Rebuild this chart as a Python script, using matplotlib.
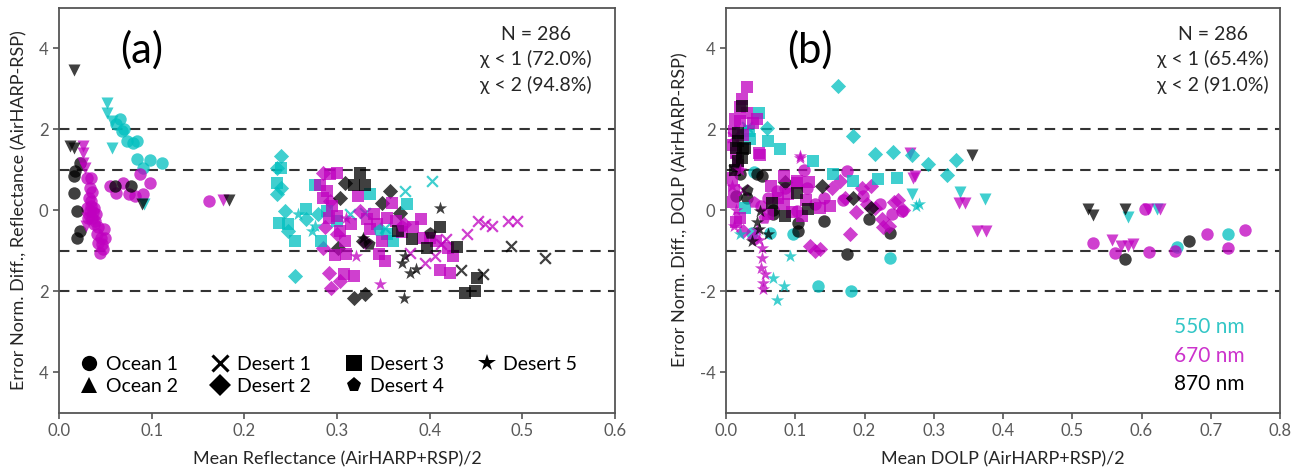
import matplotlib
matplotlib.use("Agg")
import matplotlib.pyplot as plt
from matplotlib.lines import Line2D

plt.rcParams['font.family'] = ['Lato', 'DejaVu Sans']

# (mean value, error-normalised difference, wavelength nm) per site
# --- panel (a): reflectance
refl_ocean1 = [
    (0.066, 2.24, 550), (0.062, 2.12, 550), (0.068, 1.95, 550), (0.073, 1.70, 550), (0.080, 1.66, 550),
    (0.084, 1.70, 550), (0.084, 1.25, 550), (0.098, 1.23, 550), (0.111, 1.17, 550), (0.091, 1.05, 550),
    (0.070, 2.00, 550),
    (0.030, 0.80, 670), (0.035, 0.78, 670), (0.033, 0.55, 670), (0.036, 0.45, 670), (0.032, 0.30, 670),
    (0.035, 0.22, 670), (0.030, 0.06, 670), (0.033, -0.02, 670), (0.038, 0.06, 670), (0.031, -0.19, 670),
    (0.036, -0.19, 670), (0.040, -0.10, 670), (0.038, -0.35, 670), (0.042, -0.43, 670), (0.041, -0.60, 670),
    (0.048, -0.47, 670), (0.050, -0.68, 670), (0.042, -0.81, 670), (0.046, -0.85, 670), (0.044, -1.05, 670),
    (0.034, 0.10, 670), (0.037, -0.05, 670), (0.039, -0.27, 670), (0.045, -0.70, 670), (0.047, -0.95, 670),
    (0.055, 0.59, 670), (0.062, 0.43, 670), (0.069, 0.67, 670), (0.075, 0.39, 670), (0.082, 0.35, 670),
    (0.091, 0.39, 670), (0.098, 0.67, 670), (0.087, 0.88, 670), (0.162, 0.22, 670),
    (0.017, 0.96, 870), (0.023, 1.17, 870), (0.016, 0.84, 870), (0.016, 0.43, 870), (0.019, -0.02, 870),
    (0.023, -0.52, 870), (0.019, -0.68, 870), (0.060, 0.59, 870), (0.078, 0.59, 870),
]
refl_ocean2 = [
    (0.052, 2.65, 550), (0.052, 2.40, 550), (0.057, 2.20, 550), (0.057, 1.54, 550), (0.092, 0.14, 550),
    (0.026, 1.58, 670), (0.026, 1.41, 670), (0.026, 1.17, 670), (0.028, 1.05, 670), (0.030, -0.19, 670),
    (0.029, -0.40, 670), (0.177, 0.24, 670),
    (0.016, 3.47, 870), (0.012, 1.58, 870), (0.016, 1.53, 870), (0.090, 0.15, 870), (0.183, 0.24, 870),
]
refl_desert1 = [
    (0.314, -0.11, 550), (0.330, -0.07, 550), (0.373, 0.47, 550), (0.402, 0.72, 550), (0.352, -0.45, 550),
    (0.452, -0.27, 670), (0.467, -0.40, 670), (0.485, -0.27, 670), (0.494, -0.27, 670), (0.460, -0.35, 670),
    (0.440, -0.60, 670), (0.418, -0.72, 670), (0.395, -1.30, 670), (0.406, -1.14, 670), (0.379, -1.05, 670),
    (0.412, -0.85, 670),
    (0.488, -0.89, 870), (0.524, -1.18, 870), (0.434, -1.47, 870), (0.458, -1.59, 870),
]
refl_desert2 = [
    (0.240, 1.33, 550), (0.235, 1.05, 550), (0.235, 0.39, 550), (0.244, -0.02, 550), (0.247, -0.52, 550),
    (0.255, -1.63, 550), (0.267, -0.23, 550), (0.280, -0.11, 550), (0.240, 0.55, 550),
    (0.285, 0.92, 670), (0.292, 0.22, 670), (0.287, -0.43, 670), (0.285, -0.93, 670), (0.291, -1.55, 670),
    (0.294, -1.92, 670), (0.303, -1.75, 670), (0.325, -0.02, 670), (0.372, -0.35, 670), (0.300, -0.60, 670),
    (0.330, -0.80, 670),
    (0.309, 0.67, 870), (0.303, 0.30, 870), (0.357, 0.47, 870), (0.348, 0.18, 870), (0.368, -0.07, 870),
    (0.318, -2.16, 870), (0.330, -2.08, 870), (0.328, -0.77, 870), (0.301, -0.93, 870),
]
refl_desert3 = [
    (0.240, 1.05, 550), (0.235, 0.67, 550), (0.237, -0.31, 550), (0.247, -0.35, 550), (0.255, -0.77, 550),
    (0.267, 0.02, 550), (0.276, 0.63, 550), (0.283, -0.77, 550), (0.289, -0.02, 550), (0.300, -0.27, 550),
    (0.336, 0.39, 550), (0.375, 0.14, 550), (0.354, -0.60, 550), (0.360, -0.77, 550),
    (0.292, 0.88, 670), (0.300, 0.92, 670), (0.282, 0.63, 670), (0.289, 0.47, 670), (0.285, 0.30, 670),
    (0.291, -0.19, 670), (0.300, -0.15, 670), (0.303, -0.52, 670), (0.309, -0.77, 670), (0.310, -1.09, 670),
    (0.307, -1.59, 670), (0.318, -1.63, 670), (0.323, 0.35, 670), (0.332, -0.23, 670), (0.336, -0.48, 670),
    (0.343, -0.35, 670), (0.348, -0.77, 670), (0.345, -1.09, 670), (0.352, -1.26, 670), (0.359, 0.18, 670),
    (0.354, -0.19, 670), (0.364, -0.27, 670), (0.382, -0.43, 670), (0.391, -0.23, 670), (0.393, -0.68, 670),
    (0.400, -0.68, 670), (0.407, -0.77, 670), (0.420, -0.93, 670), (0.411, -1.47, 670), (0.422, -1.55, 670),
    (0.425, -1.14, 670), (0.295, 0.10, 670), (0.315, -0.35, 670), (0.340, -0.10, 670), (0.370, -0.55, 670),
    (0.298, -1.10, 670),
    (0.325, 0.92, 870), (0.318, 0.63, 870), (0.330, 0.63, 870), (0.366, -0.52, 870), (0.381, -0.72, 870),
    (0.397, -0.93, 870), (0.411, -0.43, 870), (0.429, -0.91, 870), (0.451, -1.67, 870), (0.438, -2.04, 870),
    (0.449, -2.00, 870),
]
refl_desert4 = [
    (0.345, -0.50, 550), (0.370, -0.40, 670), (0.400, -0.56, 870), (0.335, -0.85, 870),
]
refl_desert5 = [
    (0.258, -0.11, 550), (0.273, -0.52, 550), (0.276, -0.40, 550),
    (0.346, -1.83, 670), (0.321, -1.14, 670), (0.310, -0.20, 670),
    (0.411, 0.06, 870), (0.372, -2.16, 870), (0.370, -1.30, 870), (0.379, -1.55, 870), (0.373, -1.14, 870),
    (0.385, -1.45, 870), (0.328, -0.68, 870),
]

# --- panel (b): DOLP
dolp_ocean1 = [
    (0.133, -1.88, 550), (0.181, -2.00, 550), (0.097, -0.60, 550), (0.064, -0.56, 550), (0.037, -0.56, 550),
    (0.237, -1.18, 550), (0.651, -0.91, 550), (0.725, -0.60, 550), (0.040, 0.95, 550),
    (0.112, 1.00, 670), (0.174, 0.96, 670), (0.117, 0.55, 670), (0.073, 0.47, 670), (0.141, 0.30, 670),
    (0.102, -0.02, 670), (0.222, 0.14, 670), (0.239, -0.11, 670), (0.254, -0.02, 670), (0.530, -0.81, 670),
    (0.562, -1.05, 670), (0.605, 0.02, 670), (0.611, -1.03, 670), (0.648, -1.01, 670), (0.695, -0.58, 670),
    (0.725, -0.93, 670), (0.749, -0.49, 670), (0.169, 0.26, 670), (0.198, 0.35, 670), (0.060, 0.30, 670),
    (0.085, 0.55, 670), (0.050, 0.10, 670), (0.128, 0.15, 670),
    (0.104, -0.52, 870), (0.068, -0.11, 870), (0.052, 0.84, 870), (0.141, -0.27, 870), (0.174, -1.09, 870),
    (0.206, -0.23, 870), (0.237, -0.56, 870), (0.015, 0.35, 870), (0.044, 0.88, 870), (0.020, 0.88, 870),
    (0.068, -0.01, 870), (0.104, -0.31, 870), (0.576, -1.22, 870), (0.668, -0.77, 870), (0.030, 0.30, 870),
]
dolp_ocean2 = [
    (0.268, 0.39, 550), (0.338, 0.45, 550), (0.374, 0.28, 550), (0.581, -0.17, 550), (0.622, 0.02, 550),
    (0.266, 1.42, 670), (0.273, 0.84, 670), (0.270, 0.80, 670), (0.336, 0.18, 670), (0.345, 0.18, 670),
    (0.362, -0.52, 670), (0.375, -0.52, 670), (0.557, -0.75, 670), (0.571, -0.89, 670), (0.588, -0.83, 670),
    (0.580, -0.88, 670), (0.610, 0.02, 670), (0.627, 0.02, 670),
    (0.355, 1.37, 870), (0.523, 0.02, 870), (0.530, -0.13, 870), (0.576, 0.02, 870),
]
dolp_desert1 = [
    (0.020, 1.95, 550), (0.030, 2.05, 550),
    (0.010, 1.80, 670), (0.015, 1.20, 670), (0.025, 0.50, 670),
    (0.012, 1.00, 870),
]
dolp_desert2 = [
    (0.059, 2.03, 550), (0.162, 3.06, 550), (0.183, 1.83, 550), (0.215, 1.39, 550), (0.241, 1.44, 550),
    (0.268, 1.37, 550), (0.292, 1.14, 550), (0.332, 1.23, 550), (0.319, 0.86, 550),
    (0.025, -0.52, 670), (0.040, -0.70, 670), (0.121, -0.89, 670), (0.128, -1.01, 670), (0.135, -0.95, 670),
    (0.165, 0.72, 670), (0.172, 0.30, 670), (0.196, 0.55, 670), (0.203, 0.14, 670), (0.225, -0.23, 670),
    (0.235, -0.40, 670), (0.249, 0.26, 670), (0.242, 0.20, 670), (0.153, 0.55, 670), (0.179, -0.60, 670),
    (0.227, -0.43, 670), (0.256, -0.01, 670), (0.215, 0.05, 670), (0.188, -0.05, 670), (0.210, 0.60, 670),
    (0.138, 0.59, 870), (0.210, 0.06, 870), (0.184, 0.30, 870), (0.085, 0.70, 870),
]
dolp_desert3 = [
    (0.047, 2.40, 550), (0.035, 1.75, 550), (0.061, 1.70, 550), (0.078, 1.50, 550), (0.126, 1.21, 550),
    (0.027, 0.06, 550), (0.155, 0.88, 550), (0.184, 0.72, 550), (0.220, 0.76, 550), (0.247, 0.80, 550),
    (0.033, 1.95, 550),
    (0.030, 3.04, 670), (0.023, 2.73, 670), (0.020, 2.20, 670), (0.039, 2.16, 670), (0.013, 2.24, 670),
    (0.044, 2.24, 670), (0.049, 1.37, 670), (0.047, 1.42, 670), (0.083, 0.84, 670), (0.102, 0.72, 670),
    (0.083, 0.14, 670), (0.136, 0.06, 670), (0.102, 0.67, 670), (0.010, 1.60, 670), (0.015, 1.40, 670),
    (0.025, 1.85, 670), (0.030, 2.40, 670), (0.020, 2.55, 670), (0.012, 1.95, 670), (0.018, 1.10, 670),
    (0.008, 0.80, 670), (0.012, 0.50, 670), (0.010, 0.20, 670), (0.020, -0.20, 670), (0.015, -0.30, 670),
    (0.065, 0.60, 670), (0.075, 0.30, 670), (0.090, 0.40, 670), (0.115, 0.25, 670), (0.120, 0.70, 670),
    (0.150, 0.10, 670), (0.060, -0.10, 670), (0.095, -0.05, 670), (0.110, -0.15, 670),
    (0.023, 2.57, 870), (0.018, 1.91, 870), (0.018, 1.70, 870), (0.025, 1.50, 870), (0.018, 1.21, 870),
    (0.013, 1.00, 870), (0.102, 0.43, 870), (0.066, 0.18, 870), (0.085, -0.15, 870), (0.119, 0.02, 870),
    (0.015, 1.54, 870), (0.027, 1.54, 870), (0.023, 1.29, 870),
]
dolp_desert4 = [
    (0.040, 0.20, 670), (0.055, -0.20, 670), (0.030, 0.50, 870),
]
dolp_desert5 = [
    (0.073, -2.21, 550), (0.083, -1.88, 550), (0.068, -1.67, 550), (0.092, -1.14, 550), (0.278, 0.14, 550),
    (0.275, 0.10, 550), (0.020, -0.60, 550),
    (0.052, -0.93, 670), (0.052, -1.18, 670), (0.050, -1.42, 670), (0.056, -1.59, 670), (0.054, -1.79, 670),
    (0.054, -1.96, 670), (0.107, 1.33, 670), (0.107, 1.29, 670), (0.048, -0.75, 670), (0.045, -0.50, 670),
    (0.015, 0.00, 670), (0.012, -0.40, 670), (0.008, 0.60, 670), (0.020, 1.00, 670),
    (0.049, -0.02, 870), (0.047, -0.48, 870), (0.037, -0.77, 870), (0.045, -0.30, 870), (0.060, -0.60, 870),
]

site_names = ['Ocean 1', 'Ocean 2', 'Desert 1', 'Desert 2', 'Desert 3', 'Desert 4', 'Desert 5']
refl_sites = [refl_ocean1, refl_ocean2, refl_desert1, refl_desert2, refl_desert3, refl_desert4, refl_desert5]
dolp_sites = [dolp_ocean1, dolp_ocean2, dolp_desert1, dolp_desert2, dolp_desert3, dolp_desert4, dolp_desert5]
bands = [550, 670, 870]
refl_stats = 'N = 286\nχ < 1 (72.0%)\nχ < 2 (94.8%)'
dolp_stats = 'N = 286\nχ < 1 (65.4%)\nχ < 2 (91.0%)'

site_markers = ['o', 'v', 'x', 'D', 's', 'p', '*']
site_sizes = [80, 75, 60, 60, 72, 85, 100]
band_colors = {550: 'c', 670: 'm', 870: 'k'}
text_colors = {550: '#33c6c6', 670: '#cc33cc', 870: 'black'}

fig = plt.figure(figsize=(13.03, 4.72), dpi=100)
ax_a = fig.add_axes([0.0453, 0.126, 0.4267, 0.858])
ax_b = fig.add_axes([0.5572, 0.126, 0.4252, 0.858])


def draw_panel(ax, sites, xmax):
    for pts, mk, sz in zip(sites, site_markers, site_sizes):
        for band in bands:
            xs = [p[0] for p in pts if p[2] == band]
            ys = [p[1] for p in pts if p[2] == band]
            if mk == 'x':
                ax.scatter(xs, ys, marker=mk, s=sz, c=band_colors[band], alpha=0.75, linewidths=1.6)
            else:
                ax.scatter(xs, ys, marker=mk, s=sz, c=band_colors[band], alpha=0.75, linewidths=0)
    for yl in [2, 1, -1, -2]:
        ax.axhline(yl, color='#333333', lw=1.5, ls=(0, (5, 3.5)), zorder=0)
    ax.set_xlim(0, xmax)
    ax.set_ylim(-5, 5)
    ax.set_yticks([4, 2, 0, -2, -4])
    nt = int(round(xmax * 10)) + 1
    ax.set_xticks([i / 10 for i in range(nt)])
    ax.set_xticklabels(['%.1f' % (i / 10) for i in range(nt)])
    for s in ax.spines.values():
        s.set_color('#555555')
        s.set_linewidth(1.3)
    ax.tick_params(direction='out', length=4, width=1.2, color='#555555',
                   labelcolor='#595959', labelsize=12)


draw_panel(ax_a, refl_sites, 0.6)
draw_panel(ax_b, dolp_sites, 0.8)

ax_a.set_yticklabels(['4', '2', '0', '2', '4'])
ax_b.set_yticklabels(['4', '2', '0', '-2', '-4'])

ax_a.set_xlabel('Mean Reflectance (AirHARP+RSP)/2', fontsize=13, color='#262626', labelpad=9)
ax_a.set_ylabel('Error Norm. Diff., Reflectance (AirHARP-RSP)', fontsize=13, color='#262626', labelpad=8)
ax_b.set_xlabel('Mean DOLP (AirHARP+RSP)/2', fontsize=13, color='#262626', labelpad=9)
ax_b.set_ylabel('Error Norm. Diff., DOLP (AirHARP-RSP)', fontsize=13, color='#262626', labelpad=8)

ax_a.text(0.0896, 3.95, '(a)', fontsize=30, ha='center', va='center')
ax_b.text(0.121, 3.95, '(b)', fontsize=30, ha='center', va='center')

ax_a.text(0.515, 4.55, refl_stats, fontsize=14, ha='center', va='top', linespacing=1.5,
          color='#262626')
ax_b.text(0.703, 4.55, dolp_stats, fontsize=14, ha='center', va='top', linespacing=1.5,
          color='#262626')

for band, yt in zip(bands, [-2.89, -3.6, -4.3]):
    ax_b.text(0.749, yt, '%d nm' % band, fontsize=15, ha='right', va='center', color=text_colors[band])

# site legend in black, with an upward triangle for Ocean 2
legend_markers = ['o', '^', 'x', 'D', 's', 'p', '*']
handles = [Line2D([], [], ls='none', marker=m, color='black', markersize=11 if m != '*' else 13,
                  markeredgewidth=2.2 if m == 'x' else 0)
           for m in legend_markers]
ax_a.legend(handles, site_names, ncol=4, loc='lower left', bbox_to_anchor=(0.005, 0.0),
            frameon=False, fontsize=14, handletextpad=0.35, columnspacing=1.7,
            labelspacing=0.25, handlelength=1.0)

fig.savefig('out.png', dpi=100)
